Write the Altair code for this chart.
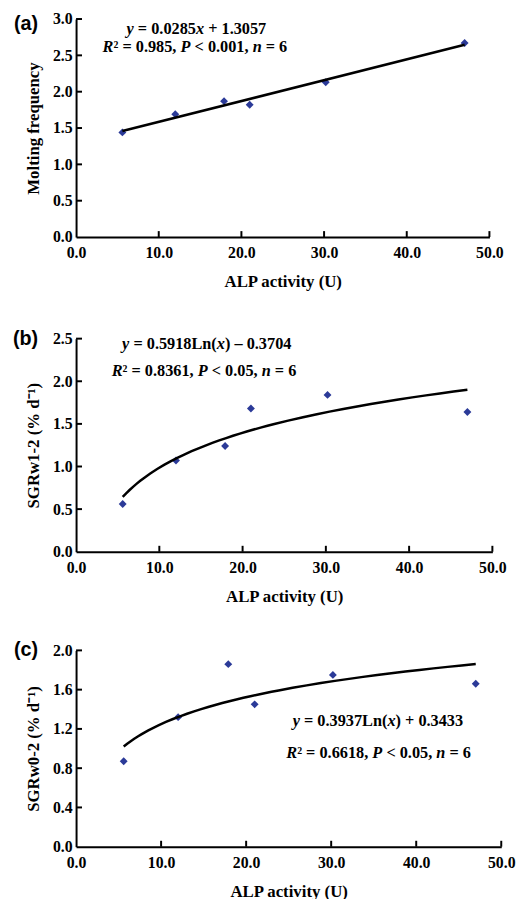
import altair as alt
import pandas as pd

# ---- data ----
alp = [5.6, 12.0, 17.9, 21.0, 30.2, 47.0]
molting = [1.44, 1.69, 1.87, 1.82, 2.13, 2.67]
sgr_w12 = [0.56, 1.07, 1.24, 1.68, 1.84, 1.64]
sgr_w02 = [0.87, 1.32, 1.86, 1.45, 1.75, 1.66]

x_ticks = [0, 10, 20, 30, 40, 50]
y_ticks_a = [0, 0.5, 1.0, 1.5, 2.0, 2.5, 3.0]
y_ticks_b = [0, 0.5, 1.0, 1.5, 2.0, 2.5]
y_ticks_c = [0, 0.4, 0.8, 1.2, 1.6, 2.0]

# equation text: (segment, italic?)
eq_a = [[("y", 1), (" = 0.0285", 0), ("x", 1), (" + 1.3057", 0)],
        [("R", 1), ("² = 0.985, ", 0), ("P", 1), (" < 0.001, ", 0), ("n", 1), (" = 6", 0)]]
eq_b = [[("y", 1), (" = 0.5918Ln(", 0), ("x", 1), (") – 0.3704", 0)],
        [("R", 1), ("² = 0.8361, ", 0), ("P", 1), (" < 0.05, ", 0), ("n", 1), (" = 6", 0)]]
eq_c = [[("y", 1), (" = 0.3937Ln(", 0), ("x", 1), (") + 0.3433", 0)],
        [("R", 1), ("² = 0.6618, ", 0), ("P", 1), (" < 0.05, ", 0), ("n", 1), (" = 6", 0)]]

SERIF = "Liberation Serif"
SANS = "Liberation Sans"
PT_COLOR = "#2B3A98"
EQ_FS = 16.5

# approximate advance widths (per 1000 em) of Times-like bold / bold-italic fonts
W_BOLD = {" ": 250, "(": 333, ")": 333, "+": 570, ",": 250, "-": 333, ".": 250, "<": 570,
          "=": 570, "L": 667, "n": 556, "²": 300, "–": 500}
W_BI = {"y": 444, "x": 500, "R": 667, "P": 611, "n": 556}


def seg_w(s, italic):
    table = W_BI if italic else W_BOLD
    return sum(table.get(ch, 500) for ch in s) * EQ_FS / 1000.0


def eq_layers(segs, cx, cy):
    total = sum(seg_w(s, it) for s, it in segs)
    pos = cx - total / 2.0
    out = []
    for s, it in segs:
        lead = len(s) - len(s.lstrip(" "))
        txt = s.strip(" ")
        xpos = pos + seg_w(" " * lead, 0)
        out.append(alt.Chart(pd.DataFrame({"t": [txt]})).mark_text(
            font=SERIF, fontSize=EQ_FS, fontWeight="bold", fontStyle="italic" if it else "normal",
            align="left", baseline="middle", color="black"
        ).encode(text="t:N", x=alt.value(xpos), y=alt.value(cy)))
        pos += seg_w(s, it)
    return out


def panel(yvals, ytitle, yticks, ymax, method, eqs, eq_pos, tag, tag_pos, w, h, top_extra=0):
    df = pd.DataFrame({"x": alp, "y": yvals})
    xs = alt.X("x:Q", scale=alt.Scale(domain=[0, 50], nice=False),
               axis=alt.Axis(values=x_ticks, tickCount=len(x_ticks), format=".1f", title="ALP activity (U)"))
    ys = alt.Y("y:Q", scale=alt.Scale(domain=[0, ymax], nice=False),
               axis=alt.Axis(values=yticks, tickCount=len(yticks), format=".1f", title=ytitle))
    base = alt.Chart(df)
    pts = base.mark_point(shape="diamond", filled=True, size=64, color=PT_COLOR, opacity=1).encode(x=xs, y=ys)
    fit = base.transform_regression("x", "y", method=method).mark_line(
        color="black", strokeWidth=2.5).encode(x="x:Q", y="y:Q")
    xt = alt.Chart(pd.DataFrame({"t": x_ticks[1:]})).mark_rule(color="black", strokeWidth=2).encode(
        x="t:Q", y=alt.value(h), y2=alt.value(h - 6))
    yt = alt.Chart(pd.DataFrame({"t": yticks[1:]})).mark_rule(color="black", strokeWidth=2).encode(
        y="t:Q", x=alt.value(0), x2=alt.value(6))
    layers = [pts, xt, yt, fit]
    for segs, (px, py) in zip(eqs, eq_pos):
        layers.extend(eq_layers(segs, px, py))
    layers.append(alt.Chart(pd.DataFrame({"t": [tag]})).mark_text(
        font=SANS, fontSize=20, fontWeight="bold", align="left", baseline="middle", color="black"
    ).encode(text="t:N", x=alt.value(tag_pos[0]), y=alt.value(tag_pos[1])))
    if top_extra:
        layers.append(alt.Chart(pd.DataFrame({"t": [0]})).mark_rule(opacity=0).encode(
            x=alt.value(0), y=alt.value(-top_extra), y2=alt.value(0)))
    return alt.layer(*layers).properties(width=w, height=h)


a = panel(molting, "Molting frequency", y_ticks_a, 3.0, "linear", eq_a,
          [(122, 10), (120.5, 28)], "(a)", (-63, 5), 419, 221)
b = panel(sgr_w12, "SGRw1-2 (% d⁻¹)", y_ticks_b, 2.5, "log", eq_b,
          [(132.5, 5), (129.7, 33)], "(b)", (-64, 0), 422, 216, top_extra=16)
c = panel(sgr_w02, "SGRw0-2 (% d⁻¹)", y_ticks_c, 2.0, "log", eq_c,
          [(306, 72), (306.7, 104)], "(c)", (-63, 0), 431, 199, top_extra=13)

chart = alt.ConcatChart(concat=[a, b, c], columns=1, spacing=34).properties(
    padding={"left": 5, "top": -3, "right": 5, "bottom": 5}
).configure_view(stroke=None).configure_axis(
    domainColor="black", domainWidth=2, ticks=False, grid=False,
    labelFont=SERIF, labelFontSize=16, labelFontWeight="bold", labelColor="black",
    labelOverlap=False, labelFlush=False,
    titleFont=SERIF, titleFontSize=17, titleFontWeight="bold", titleColor="black",
).configure_axisX(labelPadding=8, titlePadding=13).configure_axisY(labelPadding=4, titlePadding=10)

chart.save("out.html", embed_options={"renderer": "svg", "actions": False})
